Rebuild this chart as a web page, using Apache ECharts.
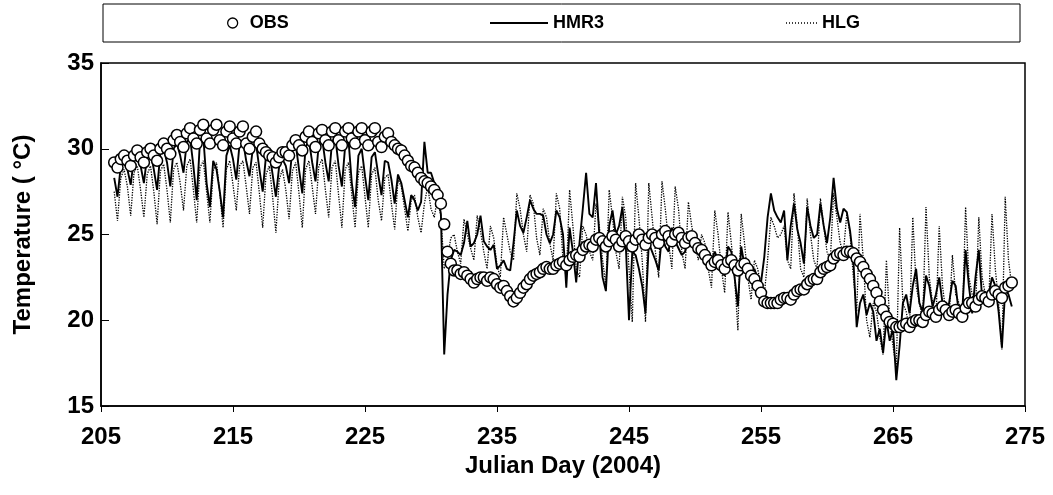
<!DOCTYPE html>
<html>
<head>
<meta charset="utf-8">
<script src="https://cdn.jsdelivr.net/npm/echarts@6/dist/echarts.min.js"></script>
<style>
html,body{margin:0;padding:0;background:#fff;}
#chart{width:1053px;height:495px;}
</style>
</head>
<body>
<div id="chart"></div>
<script>
// Time axis: samples every 0.25 day starting at Julian day 206.0
var startDay = 206.0;
var stepDay = 0.25;
var xTicks = ['205','215','225','235','245','255','265','275'];
var yTicks = ['15','20','25','30','35'];
var seriesNames = ['OBS','HMR3','HLG'];

// Observed temperature (°C), 4 samples per day
var obs = [
 29.2,28.9,29.4,29.6, 29.3,29.0,29.6,29.9, 29.5,29.2,29.8,30.0, 29.6,29.3,30.0,30.3,
 30.0,29.7,30.5,30.8, 30.4,30.1,30.9,31.2, 30.6,30.3,31.1,31.4, 30.6,30.3,31.1,31.4,
 30.5,30.2,31.0,31.3, 30.6,30.3,31.0,31.3, 30.3,30.0,30.7,31.0, 30.3,30.0,29.8,29.6,
 29.5,29.2,29.5,29.8, 29.8,29.6,30.2,30.5, 30.2,29.9,30.7,31.0, 30.4,30.1,30.9,31.1,
 30.5,30.2,31.0,31.2, 30.5,30.2,31.0,31.2, 30.6,30.3,31.0,31.2, 30.5,30.2,31.0,31.2,
 30.4,30.1,30.7,30.9, 30.4,30.2,30.0,29.9, 29.6,29.3,29.0,28.9, 28.6,28.3,28.1,28.0,
 27.8,27.6,27.3,26.8, 25.6,24.0,23.3,22.9, 22.9,22.7,22.8,22.6, 22.4,22.2,22.4,22.5,
 22.5,22.3,22.5,22.4, 22.1,21.9,22.0,21.7, 21.4,21.1,21.3,21.6, 21.9,22.1,22.4,22.6,
 22.7,22.8,23.0,23.1, 23.0,23.0,23.2,23.3, 23.4,23.2,23.5,23.7, 23.8,23.7,24.1,24.3,
 24.4,24.3,24.7,24.8, 24.6,24.3,24.6,24.9, 24.7,24.3,24.6,24.9, 24.6,24.3,24.7,25.0,
 24.7,24.4,24.8,25.0, 24.8,24.5,25.0,25.2, 24.9,24.6,25.0,25.1, 24.8,24.5,24.8,24.9,
 24.5,24.2,24.1,23.8, 23.5,23.2,23.4,23.5, 23.2,23.0,23.4,23.5, 23.2,22.9,23.2,23.3,
 23.0,22.6,22.4,22.0, 21.6,21.1,21.0,21.0, 21.0,21.0,21.2,21.3, 21.3,21.2,21.5,21.7,
 21.8,21.8,22.1,22.3, 22.4,22.4,22.8,23.0, 23.1,23.2,23.6,23.8, 23.9,23.8,24.0,24.0,
 23.9,23.6,23.4,23.1, 22.7,22.4,22.0,21.6, 21.1,20.6,20.2,19.9, 19.8,19.6,19.6,19.7,
 19.8,19.6,19.9,20.0, 20.0,19.9,20.3,20.5, 20.4,20.2,20.6,20.8, 20.6,20.3,20.5,20.6,
 20.4,20.2,20.7,21.0, 21.0,20.8,21.2,21.4, 21.3,21.1,21.5,21.7, 21.5,21.3,21.9,22.0,
 22.2
];

// HMR3 model (°C)
var hmr3 = [
 28.3,27.2,29.0,29.4, 28.8,27.9,29.5,29.7, 29.0,28.0,29.6,29.8, 28.8,27.6,29.8,30.0,
 29.2,27.8,30.0,30.3, 29.6,28.6,30.4,30.6, 29.0,27.0,30.5,30.7, 28.0,26.6,29.3,28.8,
 27.5,26.0,29.6,30.2, 29.4,28.2,30.3,30.5, 29.3,28.4,30.0,30.3, 28.8,27.5,29.6,29.8,
 28.5,27.2,29.0,29.4, 29.0,28.0,30.0,30.3, 28.8,27.4,30.1,30.5, 29.2,28.1,30.3,30.6,
 29.2,28.1,30.4,30.7, 29.0,27.8,30.2,30.5, 28.0,26.6,29.6,30.0, 28.4,27.0,29.5,29.8,
 28.5,27.3,29.3,29.2, 28.2,26.8,28.5,28.0, 27.0,26.0,27.3,27.0, 26.4,26.9,30.4,28.6,
 28.6,28.0,27.4,26.2, 18.0,21.5,23.5,24.1, 24.0,23.8,24.5,25.8, 24.3,24.5,25.0,26.1,
 24.6,24.3,24.1,24.4, 23.0,23.2,23.5,23.0, 22.9,24.5,26.4,25.5, 25.1,26.0,27.0,26.5,
 26.2,26.2,26.1,25.0, 24.5,25.0,26.4,26.0, 25.0,21.9,25.4,24.0, 22.2,24.5,26.5,28.6,
 26.2,26.0,28.0,25.0, 22.5,21.7,25.5,26.4, 25.0,25.5,26.6,24.5, 20.0,24.0,23.8,23.0,
 22.0,20.4,24.5,24.0, 23.5,22.9,25.0,24.3, 24.0,25.4,24.6,24.2, 23.8,24.0,25.1,24.5,
 24.5,24.5,24.0,23.3, 23.2,23.5,24.0,23.5, 22.8,22.6,24.3,24.0, 22.5,20.8,24.3,23.2,
 22.9,22.8,23.0,22.4, 22.2,23.7,26.0,27.4, 26.4,26.0,25.7,26.4, 23.5,25.5,26.8,25.3,
 24.5,23.3,26.6,25.5, 24.8,25.0,26.8,25.5, 24.5,26.0,28.3,26.5, 25.7,26.5,26.3,25.2,
 23.5,19.6,21.0,21.5, 20.3,21.0,20.5,18.8, 19.5,18.1,20.0,18.8, 19.5,16.5,18.5,21.0,
 21.5,20.4,22.0,23.0, 21.0,20.5,22.6,22.0, 20.8,21.5,22.5,21.0, 20.5,21.0,22.3,22.0,
 20.3,20.5,24.1,22.0, 20.4,22.5,24.1,21.3, 21.0,21.5,22.5,22.0, 20.5,18.4,21.8,21.5,
 20.8
];

// HLG model (°C)
var hlg = [
 27.5,25.8,28.3,28.8, 27.8,26.1,28.6,29.0, 27.6,26.0,28.5,29.0, 27.5,25.6,28.7,29.1,
 27.6,25.7,28.8,29.2, 28.0,26.4,29.0,29.4, 27.6,25.7,28.9,29.3, 27.5,25.7,28.7,29.2,
 27.4,25.4,28.8,29.3, 27.9,26.4,29.0,29.3, 27.8,26.2,28.9,29.2, 27.4,25.4,28.5,29.0,
 27.2,25.1,28.2,28.8, 27.6,25.9,28.7,29.2, 27.4,25.4,28.8,29.3, 27.8,26.2,29.0,29.4,
 27.6,26.0,28.9,29.3, 27.3,25.4,28.8,29.2, 27.3,25.4,28.6,29.0, 27.2,25.4,28.5,28.9,
 27.0,25.8,28.3,28.5, 26.8,25.3,28.2,27.8, 26.5,25.2,27.0,27.3, 26.0,25.1,26.8,27.8,
 26.5,26.0,27.2,26.0, 23.0,23.6,24.8,25.0, 24.0,23.3,25.9,25.0, 24.2,23.5,26.1,25.2,
 24.0,23.0,25.5,24.8, 23.2,22.5,26.0,25.0, 24.0,23.5,27.4,26.5, 25.0,24.0,27.3,26.8,
 24.8,23.8,26.5,26.0, 24.5,23.5,27.4,26.5, 23.5,22.5,27.6,25.5, 23.0,22.5,25.5,25.0,
 24.0,23.5,26.8,25.5, 23.5,22.0,27.6,26.0, 24.0,23.0,27.2,26.0, 23.0,19.9,28.0,26.0,
 23.5,19.9,28.0,26.0, 24.0,22.5,28.1,26.5, 24.5,23.0,27.8,26.5, 24.0,23.0,26.9,25.5,
 24.5,23.5,25.0,24.5, 23.0,21.9,26.4,25.0, 23.0,21.6,26.3,24.5, 22.5,19.4,26.2,24.5,
 22.5,21.2,23.5,23.0, 22.0,21.5,23.5,26.0, 25.5,24.8,25.0,25.5, 23.5,23.0,27.4,25.5,
 23.0,22.5,27.1,25.0, 23.5,23.0,27.1,25.5, 24.0,23.5,27.4,26.0, 24.5,24.0,26.2,25.0,
 22.5,20.5,26.2,23.5, 20.0,19.0,21.0,20.5, 19.0,18.0,23.5,20.0, 18.5,17.2,25.4,21.0,
 20.5,19.5,26.0,22.0, 21.0,20.0,26.6,22.5, 21.0,20.0,25.5,22.0, 20.5,20.0,23.8,21.5,
 21.0,19.8,26.6,22.5, 21.5,20.5,26.0,22.5, 21.5,21.0,26.2,23.0, 21.0,18.3,27.2,23.5,
 22.0
];

function pairs(vals) {
  return vals.map(function (v, i) { return [startDay + i * stepDay, v]; });
}

var FONT = '"Liberation Sans", Arial, sans-serif';
var legendText = {fontFamily: FONT, fontWeight: 'bold', fontSize: 18, color: '#000'};
var dottedIcon = 'path://M0,0h1v1h-1z M3,0h1v1h-1z M6,0h1v1h-1z M9,0h1v1h-1z M12,0h1v1h-1z M15,0h1v1h-1z M18,0h1v1h-1z M21,0h1v1h-1z M24,0h1v1h-1z M27,0h1v1h-1z M30,0h1v1h-1z';

var chart = echarts.init(document.getElementById('chart'), null, {renderer: 'canvas'});

var option = {
  animation: false,
  backgroundColor: '#fff',
  grid: {
    left: 101, right: 28, top: 63, bottom: 89,
    show: true, borderColor: '#000', borderWidth: 1.5, backgroundColor: 'transparent'
  },
  graphic: [{
    type: 'rect',
    shape: {x: 103, y: 4, width: 917, height: 38},
    style: {fill: 'none', stroke: '#000', lineWidth: 1},
    silent: true
  }],
  legend: [
    {data: [{name: seriesNames[0], icon: 'circle'}], left: 227, top: 14, padding: 0,
     itemWidth: 24, itemHeight: 10, textStyle: legendText,
     itemStyle: {color: '#fff', borderColor: '#000', borderWidth: 1.3}},
    {data: [{name: seriesNames[1], icon: 'rect'}], left: 490, top: 14, padding: 0,
     itemWidth: 58, itemHeight: 2, symbolKeepAspect: false, textStyle: legendText,
     itemStyle: {color: '#000', borderWidth: 0}},
    {data: [{name: seriesNames[2], icon: dottedIcon}], left: 786, top: 14, padding: 0,
     itemWidth: 31, itemHeight: 1.5, symbolKeepAspect: false, textStyle: legendText,
     itemStyle: {color: '#000', borderWidth: 0}}
  ],
  xAxis: {
    type: 'value', min: 205, max: 275, interval: 10,
    name: 'Julian Day (2004)', nameLocation: 'middle', nameGap: 48,
    nameTextStyle: {fontFamily: FONT, fontWeight: 'bold', fontSize: 24, color: '#000'},
    axisLine: {lineStyle: {color: '#000', width: 1.5}},
    axisTick: {show: true, inside: false, length: 6, lineStyle: {color: '#000', width: 1}},
    axisLabel: {margin: 19, fontFamily: FONT, fontWeight: 'bold', fontSize: 24, color: '#000',
      formatter: function (v) { var s = String(v); return xTicks.indexOf(s) >= 0 ? s : ''; }},
    splitLine: {show: false}
  },
  yAxis: {
    type: 'value', min: 15, max: 35, interval: 5,
    name: 'Temperature ( \u00B0C)', nameLocation: 'middle', nameGap: 66, nameRotate: 90,
    nameTextStyle: {fontFamily: FONT, fontWeight: 'bold', fontSize: 24, color: '#000'},
    axisLine: {show: true, lineStyle: {color: '#000', width: 1.5}},
    axisTick: {show: true, inside: true, length: 8, lineStyle: {color: '#000', width: 1}},
    axisLabel: {margin: 7, fontFamily: FONT, fontWeight: 'bold', fontSize: 24, color: '#000',
      formatter: function (v) { var s = String(v); return yTicks.indexOf(s) >= 0 ? s : ''; }},
    splitLine: {show: false}
  },
  series: [
    {
      name: seriesNames[2], type: 'line', data: pairs(hlg), symbol: 'none', showSymbol: false, z: 2,
      lineStyle: {color: '#000', width: 1.3, type: 'dotted'},
      itemStyle: {color: '#000'}
    },
    {
      name: seriesNames[1], type: 'line', data: pairs(hmr3), symbol: 'none', showSymbol: false, z: 3,
      lineStyle: {color: '#000', width: 1.9, type: 'solid'},
      itemStyle: {color: '#000'}
    },
    {
      name: seriesNames[0], type: 'scatter', data: pairs(obs), symbol: 'circle', symbolSize: 11, z: 4,
      itemStyle: {color: '#fff', borderColor: '#000', borderWidth: 1.5, opacity: 1}
    }
  ]
};
chart.setOption(option);
</script>
</body>
</html>
